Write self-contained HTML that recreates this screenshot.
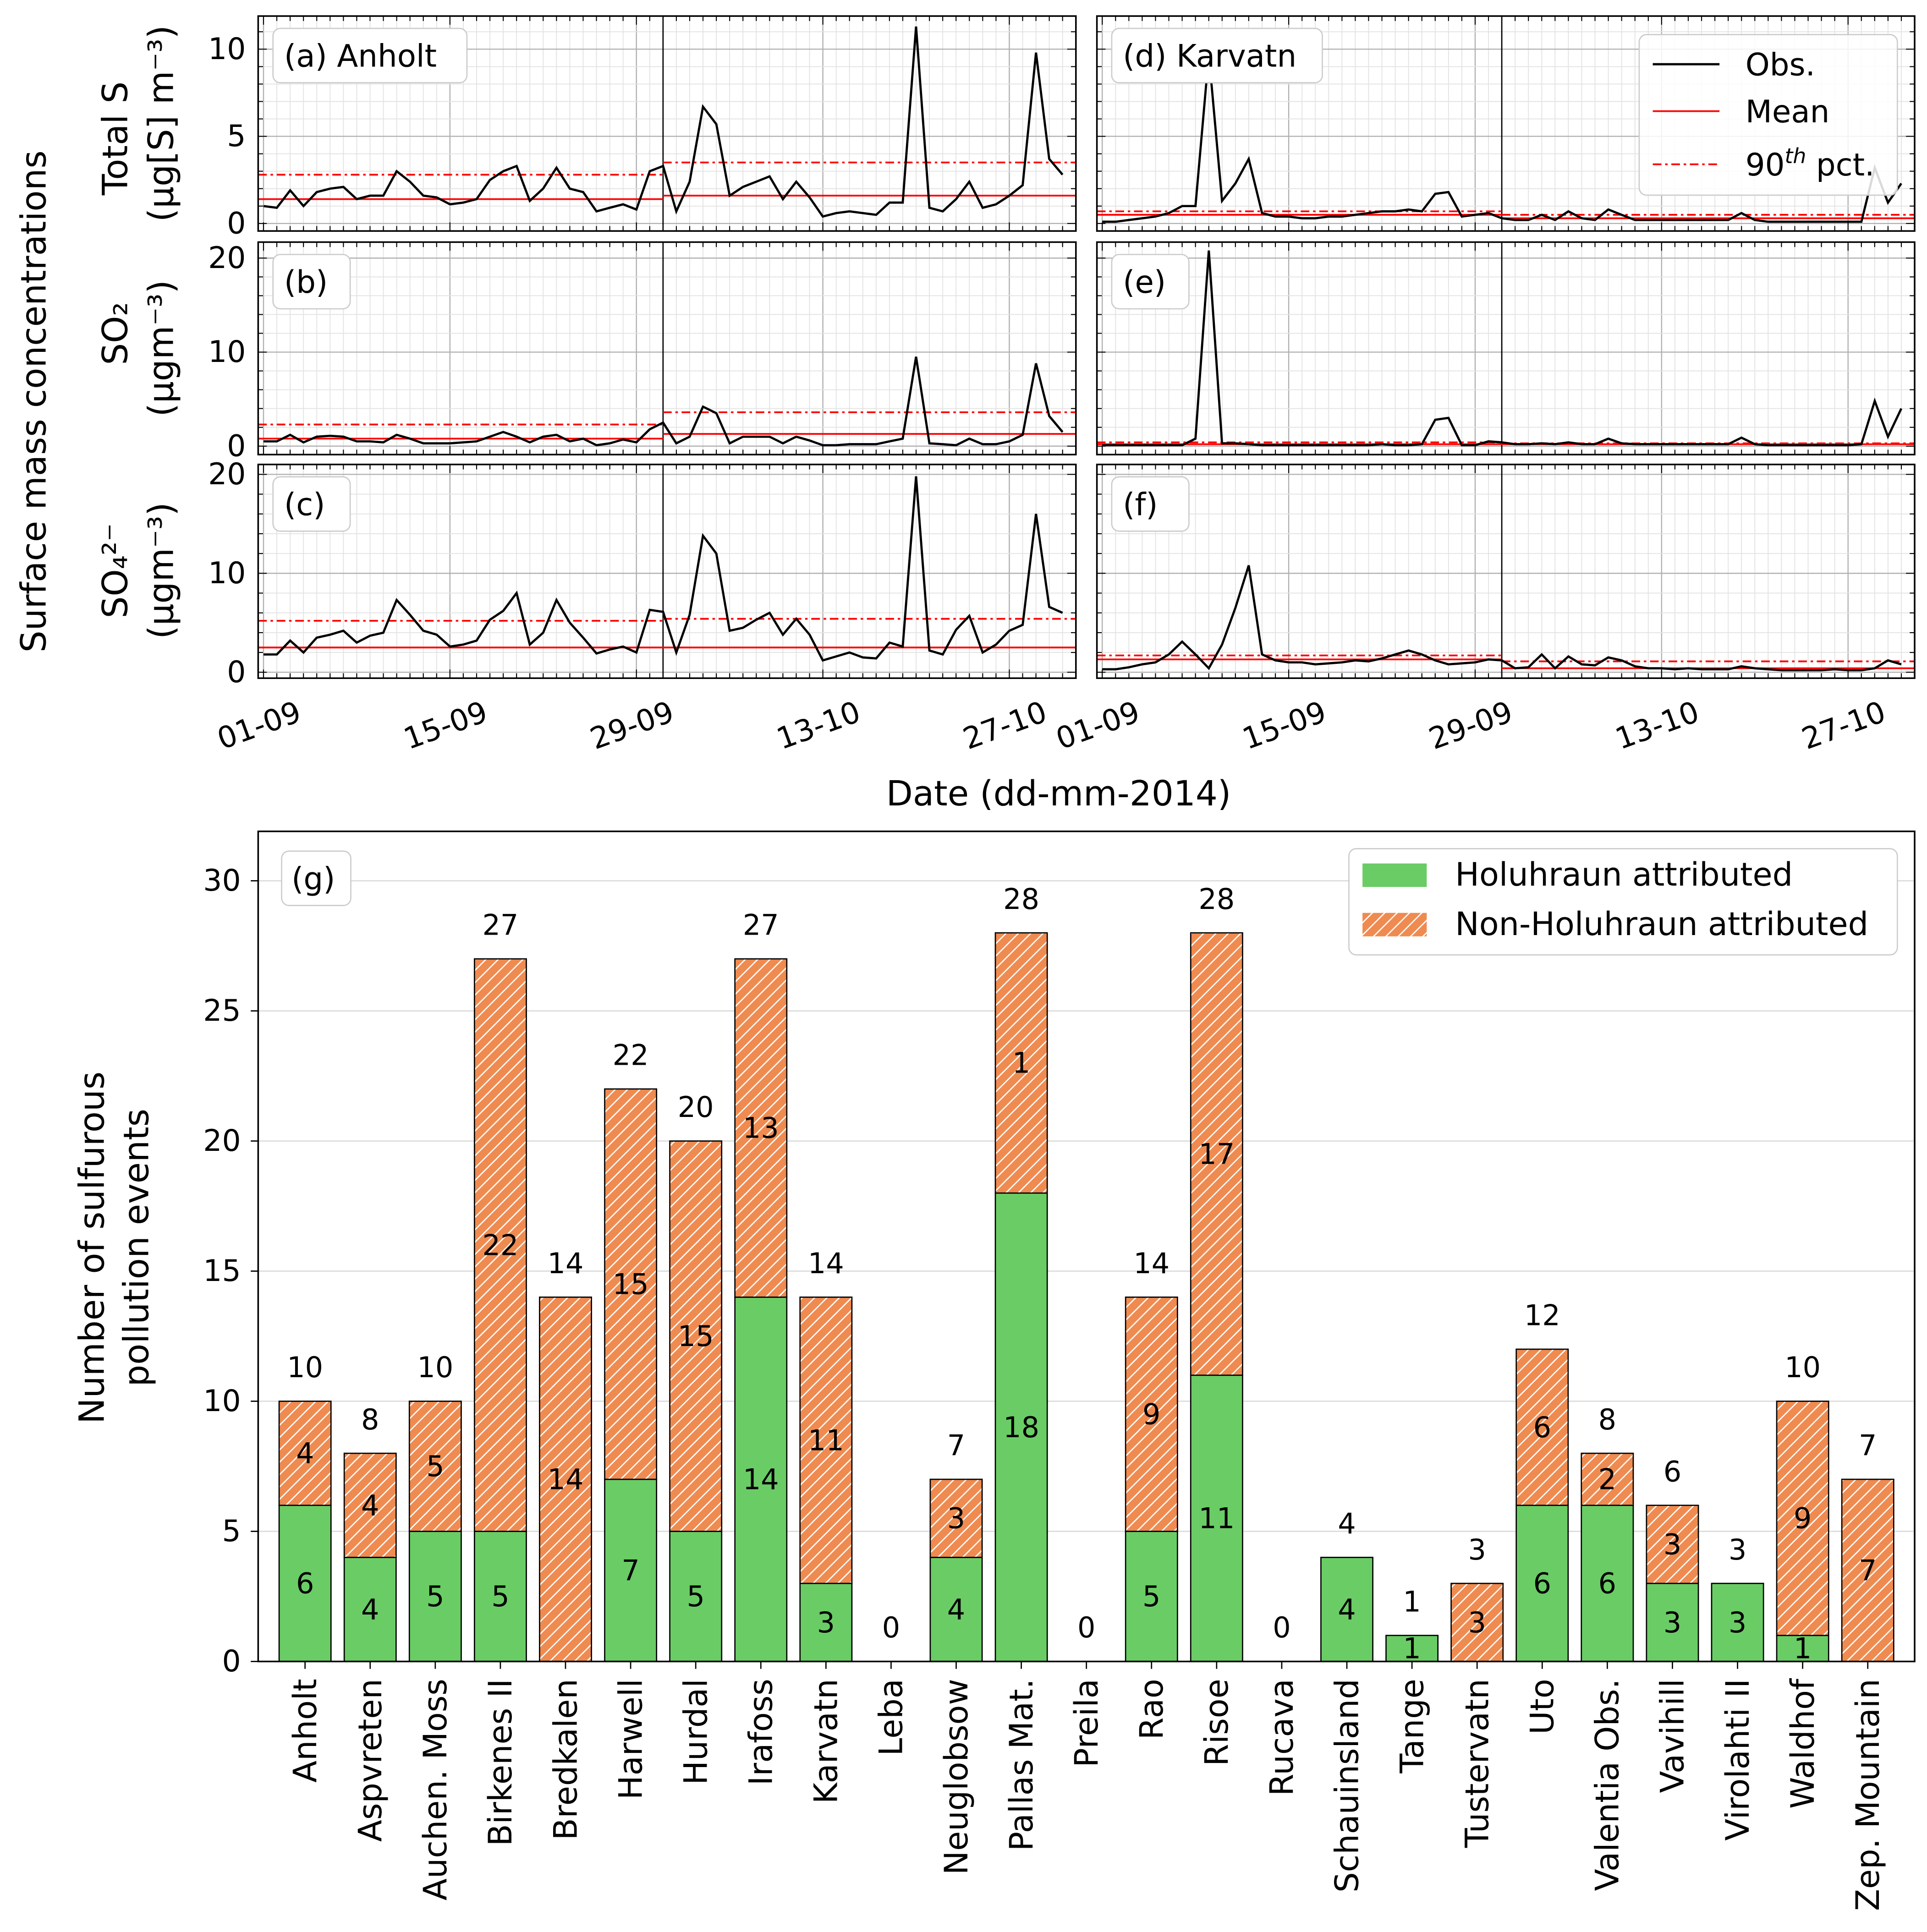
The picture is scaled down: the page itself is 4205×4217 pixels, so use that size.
<!DOCTYPE html>
<html><head><meta charset="utf-8">
<style>
html,body{margin:0;padding:0;background:#fff;}
svg{display:block;font-family:"DejaVu Sans","Liberation Sans",sans-serif;}
</style></head>
<body>
<svg id="fig" xmlns="http://www.w3.org/2000/svg" width="4205" height="4217" viewBox="0 0 1560 1564" preserveAspectRatio="none">
<defs>
<pattern id="hatch" patternUnits="userSpaceOnUse" width="10" height="10">
<rect width="10" height="10" fill="#ef8b50"/>
<path d="M-2,12 L12,-2 M-2,2 L2,-2 M8,12 L12,8" stroke="#fff" stroke-width="1"/>
</pattern>
</defs>
<g id="root"></g>
</svg>
<script>
// ---- time series data (days 0..60 from 01-09-2014) ----
const anholtTotalS = [1.0,0.9,1.9,1.0,1.8,2.0,2.1,1.4,1.6,1.6,3.0,2.4,1.6,1.5,1.1,1.2,1.4,2.5,3.0,3.3,1.3,2.0,3.2,2.0,1.8,0.7,0.9,1.1,0.8,3.0,3.3,0.7,2.4,6.7,5.7,1.6,2.1,2.4,2.7,1.4,2.4,1.5,0.4,0.6,0.7,0.6,0.5,1.2,1.2,11.3,0.9,0.7,1.4,2.4,0.9,1.1,1.6,2.2,9.8,3.7,2.8];
const anholtSO2 = [0.5,0.5,1.2,0.4,1.0,1.1,1.0,0.5,0.5,0.4,1.2,0.8,0.3,0.3,0.3,0.4,0.5,1.0,1.5,1.0,0.4,1.0,1.2,0.5,0.8,0.1,0.3,0.7,0.4,1.8,2.5,0.3,1.0,4.2,3.5,0.3,1.0,1.0,1.0,0.3,1.0,0.6,0.1,0.1,0.2,0.2,0.2,0.5,0.8,9.5,0.3,0.2,0.1,0.8,0.2,0.2,0.5,1.2,8.8,3.2,1.5];
const anholtSO4 = [1.8,1.8,3.2,2.0,3.5,3.8,4.2,3.0,3.7,4.0,7.3,5.8,4.2,3.8,2.6,2.8,3.2,5.3,6.2,8.0,2.8,4.0,7.3,5.0,3.5,1.9,2.3,2.6,2.0,6.3,6.1,2.0,5.8,13.8,12.0,4.2,4.5,5.3,6.0,3.8,5.4,3.8,1.2,1.6,2.0,1.5,1.4,3.0,2.6,19.8,2.2,1.8,4.3,5.7,2.0,2.8,4.2,4.8,16.0,6.6,6.0];
const karvatnTotalS = [0.1,0.1,0.2,0.3,0.4,0.6,1.0,1.0,9.7,1.3,2.3,3.7,0.6,0.4,0.4,0.3,0.3,0.4,0.4,0.5,0.6,0.7,0.7,0.8,0.7,1.7,1.8,0.4,0.5,0.6,0.3,0.2,0.2,0.5,0.2,0.7,0.3,0.2,0.8,0.5,0.2,0.2,0.2,0.2,0.2,0.2,0.2,0.2,0.6,0.2,0.1,0.1,0.1,0.1,0.1,0.1,0.1,0.1,3.2,1.2,2.3];
const karvatnSO2 = [0.1,0.1,0.1,0.1,0.1,0.1,0.1,0.8,20.8,0.3,0.3,0.2,0.1,0.1,0.1,0.1,0.1,0.1,0.1,0.1,0.1,0.2,0.1,0.1,0.2,2.8,3.0,0.1,0.1,0.5,0.4,0.2,0.2,0.3,0.2,0.4,0.2,0.2,0.8,0.3,0.2,0.2,0.2,0.2,0.2,0.2,0.2,0.2,0.9,0.2,0.1,0.1,0.1,0.1,0.1,0.1,0.1,0.2,4.8,1.0,4.0];
const karvatnSO4 = [0.3,0.3,0.5,0.8,1.0,1.8,3.1,1.8,0.4,2.8,6.5,10.8,1.8,1.2,1.0,1.0,0.8,0.9,1.0,1.2,1.1,1.4,1.8,2.2,1.8,1.2,0.8,0.9,1.0,1.3,1.2,0.4,0.5,1.8,0.4,1.6,0.8,0.7,1.5,1.2,0.6,0.4,0.4,0.3,0.4,0.3,0.3,0.3,0.6,0.4,0.3,0.2,0.2,0.2,0.2,0.3,0.2,0.2,0.4,1.2,0.8];
// [period1 mean, period1 90th, period2 mean, period2 90th]
const anholtTotalSStats = [1.4,2.8,1.6,3.5];
const anholtSO2Stats = [0.8,2.3,1.3,3.6];
const anholtSO4Stats = [2.5,5.2,2.5,5.4];
const karvatnTotalSStats = [0.5,0.7,0.3,0.5];
const karvatnSO2Stats = [0.2,0.4,0.2,0.3];
const karvatnSO4Stats = [1.3,1.7,0.4,1.1];
const dateTickDays = [0,14,28,42,56];
const dateTickLabels = ["01-09","15-09","29-09","13-10","27-10"];

// ---- bar chart data ----
const stations = ["Anholt","Aspvreten","Auchen. Moss","Birkenes II","Bredkalen","Harwell","Hurdal","Irafoss","Karvatn","Leba","Neuglobsow","Pallas Mat.","Preila","Rao","Risoe","Rucava","Schauinsland","Tange","Tustervatn","Uto","Valentia Obs.","Vavihill","Virolahti II","Waldhof","Zep. Mountain"];
const holuhraun = [6,4,5,5,0,7,5,14,3,0,4,18,0,5,11,0,4,1,0,6,6,3,3,1,0];
const nonHoluhraun = [4,4,5,22,14,15,15,13,11,0,3,10,0,9,17,0,0,0,3,6,2,3,0,9,7];
const nonHoluhraunLabels = ["4","4","5","22","14","15","15","13","11","","3","1","","9","17","","","","3","6","2","3","","9","7"];
const barYTicks = [0,5,10,15,20,25,30];

const NS="http://www.w3.org/2000/svg";
const root=document.getElementById('root');
function mk(tag,attrs,name,parent){
  const el=document.createElementNS(NS,tag);
  for(const k in attrs) el.setAttribute(k,attrs[k]);
  
  
  (parent||root).appendChild(el);
  return el;
}
function txt(x,y,s,size,name,extra){
  const a=Object.assign({x:x,y:y,'font-size':size,fill:'#000'},extra||{});
  const t=mk('text',a,name);
  t.textContent=s;
  return t;
}

function panel(o){
  const {x0,y0,w,h,ymin,ymax,data,stats,minorStep,majorTicks,showY,label,showX,key}=o;
  const X=d=>x0+(d+0.4)/61.4*w;
  const Y=v=>y0+h-(v-ymin)/(ymax-ymin)*h;
  const g=mk('g',{},key+'-panel');
  for(let d=0;d<=60;d++){
    mk('line',{x1:X(d),x2:X(d),y1:y0,y2:y0+h,stroke:(d%14===0)?'#b0b0b0':'#e3e3e3','stroke-width':(d%14===0)?0.9:0.7},key+'-vgrid',g);
  }
  for(let v=Math.ceil(ymin/minorStep)*minorStep;v<=ymax;v+=minorStep){
    const maj=majorTicks.includes(v);
    mk('line',{x1:x0,x2:x0+w,y1:Y(v),y2:Y(v),stroke:maj?'#b0b0b0':'#e3e3e3','stroke-width':maj?0.9:0.7},key+'-hgrid',g);
  }
  for(let d=0;d<=60;d++){
    const L=(d%14===0)?7:4;
    mk('line',{x1:X(d),x2:X(d),y1:y0+h,y2:y0+h-L,stroke:'#000','stroke-width':0.8},key+'-xtick',g);
    mk('line',{x1:X(d),x2:X(d),y1:y0,y2:y0+L,stroke:'#000','stroke-width':0.8},key+'-xtick-top',g);
  }
  for(let v=Math.ceil(ymin/minorStep)*minorStep;v<=ymax;v+=minorStep){
    const L=majorTicks.includes(v)?7:4;
    mk('line',{x1:x0,x2:x0+L,y1:Y(v),y2:Y(v),stroke:'#000','stroke-width':0.8},key+'-ytick',g);
    mk('line',{x1:x0+w,x2:x0+w-L,y1:Y(v),y2:Y(v),stroke:'#000','stroke-width':0.8},key+'-ytick-right',g);
  }
  if(showY){
    majorTicks.forEach(v=>{
      txt(x0-10,Y(v)+8,String(v),24,key+'-ytick-label',{'text-anchor':'end'});
    });
  }
  mk('line',{x1:X(30),x2:X(30),y1:y0,y2:y0+h,stroke:'#000','stroke-width':1},key+'-period-split',g);
  mk('line',{x1:x0,x2:X(30),y1:Y(stats[0]),y2:Y(stats[0]),stroke:'#ff0000','stroke-width':1.4},key+'-mean-p1',g);
  mk('line',{x1:x0,x2:X(30),y1:Y(stats[1]),y2:Y(stats[1]),stroke:'#ff0000','stroke-width':1.4,'stroke-dasharray':'7,3,2,3'},key+'-p90-p1',g);
  mk('line',{x1:X(30),x2:x0+w,y1:Y(stats[2]),y2:Y(stats[2]),stroke:'#ff0000','stroke-width':1.4},key+'-mean-p2',g);
  mk('line',{x1:X(30),x2:x0+w,y1:Y(stats[3]),y2:Y(stats[3]),stroke:'#ff0000','stroke-width':1.4,'stroke-dasharray':'7,3,2,3'},key+'-p90-p2',g);
  const pts=data.map((v,i)=>X(i).toFixed(1)+','+Y(v).toFixed(1)).join(' ');
  mk('polyline',{points:pts,fill:'none',stroke:'#000','stroke-width':1.8},key+'-obs-line',g);
  mk('rect',{x:x0,y:y0,width:w,height:h,fill:'none',stroke:'#000','stroke-width':1.3},key+'-frame',g);
  const lw=label.length*13.5+22;
  mk('rect',{x:x0+12,y:y0+10,width:lw,height:44,rx:6,fill:'#fff',stroke:'#ccc','stroke-width':1},key+'-label-box',g);
  txt(x0+21,y0+41,label,25,key+'-panel-label');
  if(showX){
    dateTickDays.forEach((d,i)=>{
      const tx=X(d), ty=y0+h+10;
      txt(0,0,dateTickLabels[i],24,key+'-xtick-label',{'text-anchor':'end',transform:`translate(${tx+32},${ty+24}) rotate(-20)`});
    });
  }
}

const L0=209,R0=888,PW=662;
panel({key:'a',x0:L0,y0:13,w:PW,h:174,ymin:-0.43,ymax:11.9,data:anholtTotalS,stats:anholtTotalSStats,minorStep:1,majorTicks:[0,5,10],showY:true,label:'(a) Anholt',showX:false});
panel({key:'b',x0:L0,y0:196,w:PW,h:172,ymin:-0.9,ymax:21.7,data:anholtSO2,stats:anholtSO2Stats,minorStep:2,majorTicks:[0,10,20],showY:true,label:'(b)',showX:false});
panel({key:'c',x0:L0,y0:376,w:PW,h:173,ymin:-0.6,ymax:21,data:anholtSO4,stats:anholtSO4Stats,minorStep:2,majorTicks:[0,10,20],showY:true,label:'(c)',showX:true});
panel({key:'d',x0:R0,y0:13,w:PW,h:174,ymin:-0.43,ymax:11.9,data:karvatnTotalS,stats:karvatnTotalSStats,minorStep:1,majorTicks:[0,5,10],showY:false,label:'(d) Karvatn',showX:false});
panel({key:'e',x0:R0,y0:196,w:PW,h:172,ymin:-0.9,ymax:21.7,data:karvatnSO2,stats:karvatnSO2Stats,minorStep:2,majorTicks:[0,10,20],showY:false,label:'(e)',showX:false});
panel({key:'f',x0:R0,y0:376,w:PW,h:173,ymin:-0.6,ymax:21,data:karvatnSO4,stats:karvatnSO4Stats,minorStep:2,majorTicks:[0,10,20],showY:false,label:'(f)',showX:true});

// top legend
(function(){
  const g=mk('g',{},'timeseries-legend');
  mk('rect',{x:1327,y:28,width:209,height:130,rx:6,fill:'#fff','fill-opacity':0.85,stroke:'#ccc'},'legend-box',g);
  mk('line',{x1:1338,x2:1392,y1:52,y2:52,stroke:'#000','stroke-width':1.8},'legend-obs-swatch',g);
  txt(1413,61,'Obs.',25,'legend-obs-label');
  mk('line',{x1:1338,x2:1392,y1:90,y2:90,stroke:'#ff0000','stroke-width':1.4},'legend-mean-swatch',g);
  txt(1413,99,'Mean',25,'legend-mean-label');
  mk('line',{x1:1338,x2:1392,y1:133,y2:133,stroke:'#ff0000','stroke-width':1.4,'stroke-dasharray':'7,3,2,3'},'legend-p90-swatch',g);
  const t=txt(1413,142,'90',25,'legend-p90-label');
  const s=document.createElementNS(NS,'tspan');s.setAttribute('font-size','17');s.setAttribute('dy','-10');s.setAttribute('font-style','italic');s.textContent='th';t.appendChild(s);
  const s2=document.createElementNS(NS,'tspan');s2.setAttribute('dy','10');s2.textContent=' pct.';t.appendChild(s2);
})();

// ---- bar chart ----
const BX0=209,BX1=1550,BY0=673,BY1=1345;
const bx=i=>BX0+(i+0.72)/25.44*(BX1-BX0);
const by=v=>BY1-v/31.9*(BY1-BY0);
const BW=42;
barYTicks.forEach(v=>{
  mk('line',{x1:BX0,x2:BX1,y1:by(v),y2:by(v),stroke:'#dcdcdc','stroke-width':1},'bar-ygrid');
  mk('line',{x1:BX0-6,x2:BX0,y1:by(v),y2:by(v),stroke:'#000','stroke-width':1},'bar-ytick');
  txt(BX0-14,by(v)+8,String(v),24,'bar-ytick-label',{'text-anchor':'end'});
});
stations.forEach((s,i)=>{
  const h=holuhraun[i], n=nonHoluhraun[i], cx=bx(i);
  if(h>0){
    mk('rect',{x:cx-BW/2,y:by(h),width:BW,height:by(0)-by(h),fill:'#6acc65',stroke:'#000','stroke-width':1},'bar-holuhraun-'+s.toLowerCase().replace(/[^a-z]+/g,'-'));
    txt(cx,by(h/2)+8,String(h),23,'bar-holuhraun-value',{'text-anchor':'middle'});
  }
  if(n>0){
    mk('rect',{x:cx-BW/2,y:by(h+n),width:BW,height:by(h)-by(h+n),fill:'url(#hatch)',stroke:'#000','stroke-width':1},'bar-non-holuhraun-'+s.toLowerCase().replace(/[^a-z]+/g,'-'));
    txt(cx,by(h+n/2)+8,nonHoluhraunLabels[i],23,'bar-non-holuhraun-value',{'text-anchor':'middle'});
  }
  txt(cx,by(h+n+1.3)+8,String(h+n),23,'bar-total-value',{'text-anchor':'middle'});
  mk('line',{x1:cx,x2:cx,y1:BY1,y2:BY1+6,stroke:'#000','stroke-width':1},'bar-xtick');
  txt(0,0,s,26,'station-label',{'text-anchor':'end',transform:`translate(${cx+9},${BY1+14}) rotate(-90)`});
});
mk('rect',{x:BX0,y:BY0,width:BX1-BX0,height:BY1-BY0,fill:'none',stroke:'#000','stroke-width':1.3},'bar-frame');
mk('rect',{x:228,y:689,width:56,height:44,rx:6,fill:'#fff',stroke:'#ccc'},'bar-label-box');
txt(236,720,'(g)',25,'bar-panel-label');
// bar legend
mk('rect',{x:1092,y:687,width:444,height:86,rx:6,fill:'#fff',stroke:'#ccc'},'bar-legend-box');
mk('rect',{x:1103,y:699,width:52,height:19,fill:'#6acc65'},'legend-holuhraun-swatch');
txt(1178,717,'Holuhraun attributed',26,'legend-holuhraun-label');
mk('rect',{x:1103,y:739,width:52,height:19,fill:'url(#hatch)'},'legend-non-holuhraun-swatch');
txt(1178,757,'Non-Holuhraun attributed',26,'legend-non-holuhraun-label');

// axis titles
txt(0,0,'Surface mass concentrations',28,'ts-y-title',{'text-anchor':'middle',transform:'translate(37,325) rotate(-90)'});
txt(0,0,'Total S',28,'total-s-y-title',{'text-anchor':'middle',transform:'translate(103,112) rotate(-90)'});
txt(0,0,'(μg[S] m⁻³)',28,'total-s-unit',{'text-anchor':'middle',transform:'translate(140,100) rotate(-90)'});
txt(0,0,'SO₂',28,'so2-y-title',{'text-anchor':'middle',transform:'translate(103,270) rotate(-90)'});
txt(0,0,'(μgm⁻³)',28,'so2-unit',{'text-anchor':'middle',transform:'translate(140,282) rotate(-90)'});
txt(0,0,'SO₄²⁻',28,'so4-y-title',{'text-anchor':'middle',transform:'translate(103,462) rotate(-90)'});
txt(0,0,'(μgm⁻³)',28,'so4-unit',{'text-anchor':'middle',transform:'translate(140,462) rotate(-90)'});
txt(857,652,'Date (dd-mm-2014)',28,'date-x-title',{'text-anchor':'middle'});
txt(0,0,'Number of sulfurous',28,'bar-y-title-1',{'text-anchor':'middle',transform:'translate(84,1010) rotate(-90)'});
txt(0,0,'pollution events',28,'bar-y-title-2',{'text-anchor':'middle',transform:'translate(120,1010) rotate(-90)'});
</script>
</body></html>
